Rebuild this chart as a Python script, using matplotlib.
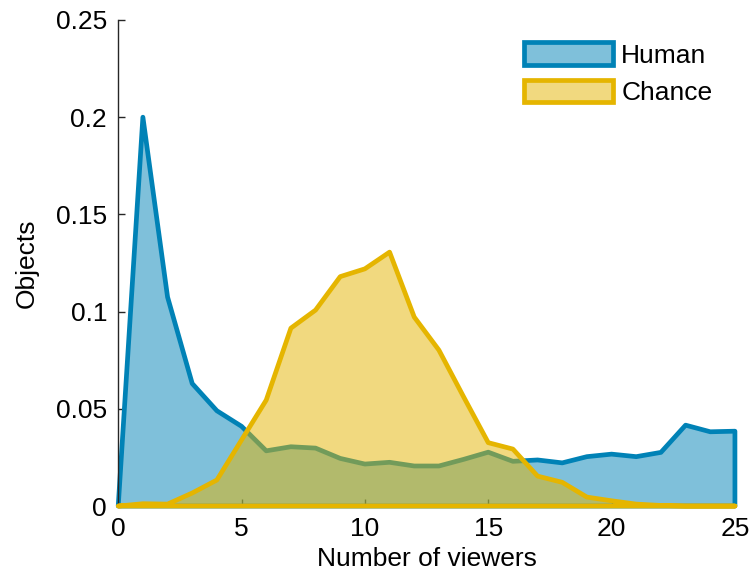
import numpy as np
import matplotlib
matplotlib.use("Agg")
import matplotlib.pyplot as plt
from matplotlib.patches import Patch

plt.rcParams['font.family'] = ['Liberation Sans', 'DejaVu Sans']

# viewer counts and fractions of objects
viewers = np.arange(0, 26)
human = [0.0, 0.200, 0.1075, 0.063, 0.049, 0.041, 0.0284, 0.0305, 0.0298, 0.0245,
         0.0216, 0.0225, 0.0206, 0.0206, 0.024, 0.0277, 0.023, 0.0237, 0.0222, 0.0254,
         0.0267, 0.0254, 0.0276, 0.0416, 0.0382, 0.0385]
chance = [0.0, 0.0012, 0.001, 0.0067, 0.0134, 0.034, 0.0545, 0.0915, 0.1008, 0.118,
          0.122, 0.1306, 0.0972, 0.0802, 0.0562, 0.0326, 0.0293, 0.0154, 0.0122, 0.0046,
          0.0027, 0.001, 0.0003, 0.0, 0.0, 0.0]

yticks = [0, 0.05, 0.1, 0.15, 0.2, 0.25]
ytick_labels = ['0', '0.05', '0.1', '0.15', '0.2', '0.25']
xticks = [0, 5, 10, 15, 20, 25]

blue = '#0082B6'
yellow = '#E5B500'
fs = 19
lw = 3.4

fig = plt.figure(figsize=(7.53, 5.79), dpi=100)
ax = fig.add_axes([0.157, 0.126, 0.819, 0.8395])

# close polygons down to the baseline at the right end
xs = np.append(viewers, viewers[-1])
ax.fill(xs, np.append(human, 0), facecolor=matplotlib.colors.to_rgba(blue, 0.5),
        edgecolor=blue, linewidth=lw, joinstyle='round', clip_on=False, zorder=2)
ax.fill(xs, np.append(chance, 0), facecolor=matplotlib.colors.to_rgba(yellow, 0.5),
        edgecolor=yellow, linewidth=lw, joinstyle='round', clip_on=False, zorder=3)

ax.set_xlim(0, 25)
ax.set_ylim(0, 0.25)
ax.set_xticks(xticks)
ax.set_yticks(yticks)
ax.set_yticklabels(ytick_labels)
ax.tick_params(direction='in', length=5, width=1, labelsize=fs, colors='#262626',
               labelcolor='black', pad=8)
ax.spines['top'].set_visible(False)
ax.spines['right'].set_visible(False)
for s in ['left', 'bottom']:
    ax.spines[s].set_color('#262626')
    ax.spines[s].set_linewidth(1)

ax.set_xlabel('Number of viewers', fontsize=fs, labelpad=4)
ax.set_ylabel('Objects', fontsize=fs, labelpad=12)

handles = [Patch(facecolor=matplotlib.colors.to_rgba(blue, 0.5), edgecolor=blue, linewidth=lw, label='Human'),
           Patch(facecolor=matplotlib.colors.to_rgba(yellow, 0.5), edgecolor=yellow, linewidth=lw, label='Chance')]
ax.legend(handles=handles, loc='upper right', frameon=False, fontsize=fs,
          handlelength=3.4, handleheight=0.95, handletextpad=0.3, labelspacing=0.45,
          borderaxespad=0.45, bbox_to_anchor=(1.0, 1.0))

fig.savefig('out.png', dpi=100)
